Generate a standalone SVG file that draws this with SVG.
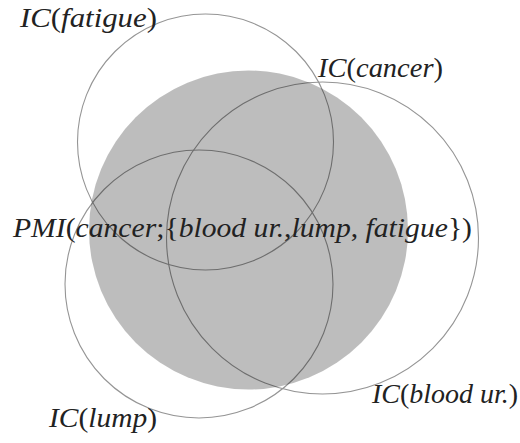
<svg xmlns="http://www.w3.org/2000/svg" width="520" height="443" viewBox="0 0 520 443">
<style>
.ring{fill:none;stroke:#959595;stroke-width:1.1}
.shade{fill:#000;fill-opacity:0.26;stroke:none}
.lbl{font-family:"Liberation Serif","Times New Roman",serif;font-size:27px;fill:#222}
.it{font-style:italic}
</style>
<rect width="520" height="443" fill="#fff"/>
<g id="fatigue"><circle class="ring" cx="205.5" cy="142" r="128"/></g>
<g id="blood"><circle class="ring" cx="322.5" cy="238" r="156"/></g>
<g id="lump"><circle class="ring" cx="199" cy="284" r="134"/></g>
<g id="cancer"><circle class="shade" cx="248.5" cy="230" r="159.5"/></g>
<g id="labels">
<text class="lbl" x="20" y="27" textLength="137" lengthAdjust="spacingAndGlyphs"><tspan class="it">IC</tspan>(<tspan class="it">fatigue</tspan>)</text>
<text class="lbl" x="318" y="77" textLength="125" lengthAdjust="spacingAndGlyphs"><tspan class="it">IC</tspan>(<tspan class="it">cancer</tspan>)</text>
<text class="lbl" x="372" y="403" textLength="146" lengthAdjust="spacingAndGlyphs"><tspan class="it">IC</tspan>(<tspan class="it">blood ur.</tspan>)</text>
<text class="lbl" x="49" y="427" textLength="108" lengthAdjust="spacingAndGlyphs"><tspan class="it">IC</tspan>(<tspan class="it">lump</tspan>)</text>
<text class="lbl" x="13" y="237" textLength="459" lengthAdjust="spacingAndGlyphs"><tspan class="it">PMI</tspan>(<tspan class="it">cancer</tspan>;{<tspan class="it">blood ur.</tspan>,<tspan class="it">lump</tspan>, <tspan class="it">fatigue</tspan>})</text>
</g>
</svg>
